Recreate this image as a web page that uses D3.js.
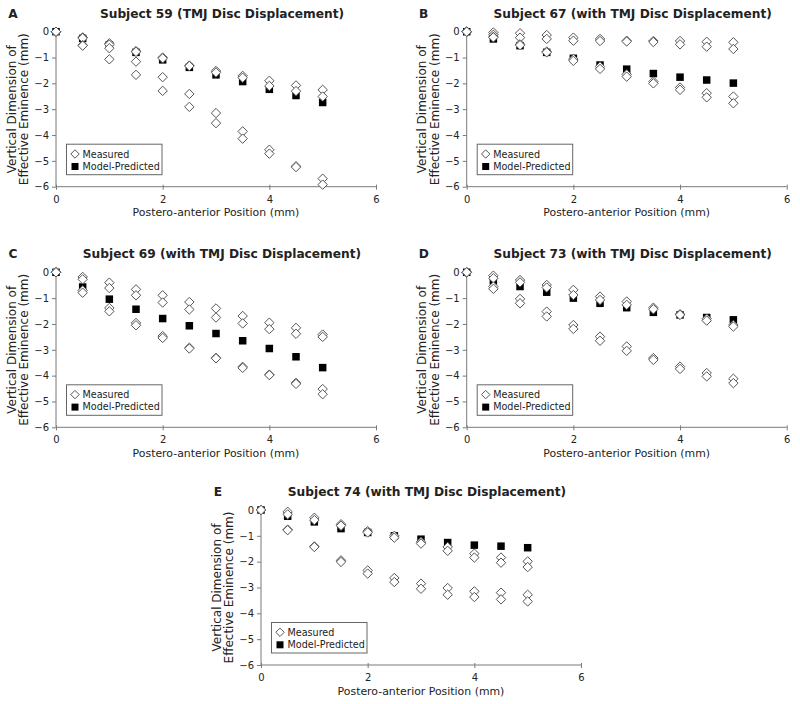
<!DOCTYPE html>
<html>
<head>
<meta charset="utf-8">
<script src="https://cdn.jsdelivr.net/npm/d3@7"></script>
<style>
  html, body { margin: 0; padding: 0; background: #fff; }
  svg text { font-family: "DejaVu Sans", Verdana, sans-serif; fill: #222; }
</style>
</head>
<body>
<svg id="chart" width="800" height="704"></svg>
<script>
// Positions along the postero-anterior axis (mm)
const positions = [0, 0.5, 1, 1.5, 2, 2.5, 3, 3.5, 4, 4.5, 5];
const xTicks = [0, 2, 4, 6];
const yTicks = [0, -1, -2, -3, -4, -5, -6];

const panelLetters = ["A", "B", "C", "D", "E"];
const panelTitles = [
  "Subject 59 (TMJ Disc Displacement)",
  "Subject 67 (with TMJ Disc Displacement)",
  "Subject 69 (with TMJ Disc Displacement)",
  "Subject 73 (with TMJ Disc Displacement)",
  "Subject 74 (with TMJ Disc Displacement)"
];

// Measured values (four measured traces per subject)
const measuredA = [
  [0, -0.22, -0.45, -0.75, -1.00, -1.31, -1.52, -1.71, -1.90, -2.08, -2.25],
  [0, -0.25, -0.50, -0.78, -1.03, -1.33, -1.58, -1.78, -2.10, -2.30, -2.51],
  [0, -0.52, -0.64, -1.16, -1.76, -2.41, -3.15, -3.86, -4.57, -5.21, -5.69],
  [0, -0.54, -1.07, -1.67, -2.29, -2.91, -3.54, -4.14, -4.72, -5.24, -5.92]
];
const measuredB = [
  [0, -0.03, -0.06, -0.13, -0.23, -0.28, -0.35, -0.36, -0.36, -0.39, -0.41],
  [0, -0.12, -0.23, -0.28, -0.35, -0.36, -0.38, -0.40, -0.49, -0.58, -0.67],
  [0, -0.20, -0.49, -0.77, -1.06, -1.35, -1.65, -1.93, -2.16, -2.38, -2.51],
  [0, -0.22, -0.52, -0.80, -1.13, -1.44, -1.74, -2.00, -2.25, -2.54, -2.77]
];
const measuredC = [
  [0, -0.18, -0.40, -0.66, -0.89, -1.15, -1.40, -1.69, -1.95, -2.15, -2.41],
  [0, -0.27, -0.61, -0.89, -1.17, -1.44, -1.75, -1.98, -2.20, -2.38, -2.50],
  [0, -0.70, -1.38, -1.96, -2.47, -2.92, -3.31, -3.66, -3.96, -4.28, -4.52],
  [0, -0.79, -1.51, -2.05, -2.54, -2.95, -3.33, -3.70, -3.98, -4.32, -4.72]
];
const measuredD = [
  [0, -0.13, -0.30, -0.49, -0.68, -0.94, -1.13, -1.37, -1.62, -1.80, -2.04],
  [0, -0.23, -0.39, -0.59, -0.88, -1.07, -1.26, -1.43, -1.65, -1.87, -2.10],
  [0, -0.55, -1.03, -1.52, -2.04, -2.49, -2.87, -3.32, -3.65, -3.90, -4.12],
  [0, -0.64, -1.20, -1.71, -2.19, -2.65, -3.04, -3.39, -3.74, -4.03, -4.29]
];
const measuredE = [
  [0, -0.07, -0.30, -0.55, -0.82, -1.00, -1.24, -1.43, -1.69, -1.84, -1.99],
  [0, -0.17, -0.39, -0.61, -0.87, -1.07, -1.30, -1.58, -1.84, -2.04, -2.21],
  [0, -0.76, -1.41, -1.95, -2.34, -2.63, -2.85, -3.02, -3.15, -3.20, -3.28],
  [0, -0.78, -1.43, -2.01, -2.46, -2.79, -3.05, -3.28, -3.37, -3.46, -3.54]
];

// Model-predicted values
const modelA = [0, -0.26, -0.51, -0.80, -1.09, -1.38, -1.67, -1.93, -2.23, -2.47, -2.74];
const modelB = [0, -0.28, -0.54, -0.80, -1.03, -1.29, -1.45, -1.62, -1.76, -1.87, -1.99];
const modelC = [0, -0.57, -1.04, -1.43, -1.79, -2.07, -2.37, -2.65, -2.95, -3.27, -3.69];
const modelD = [0, -0.33, -0.55, -0.77, -1.00, -1.20, -1.37, -1.55, -1.65, -1.75, -1.84];
const modelE = [0, -0.24, -0.46, -0.72, -0.87, -1.00, -1.13, -1.26, -1.36, -1.40, -1.46];

const legendLabels = ["Measured", "Model-Predicted"];

const measuredAll = [measuredA, measuredB, measuredC, measuredD, measuredE];
const modelAll = [modelA, modelB, modelC, modelD, modelE];

// Layout (plot origins)
const origins = [[56, 31.7], [466.7, 31.7], [56, 272.3], [466.7, 272.3], [261, 510]];
const plotW = 320, plotH = 155;

const svg = d3.select("#chart");
const axisColor = "#7a7a7a";
const minus = v => (v < 0 ? "\u2212" + Math.abs(v) : String(v));

function diamondPath(r) {
  return `M0,${-r}L${r},0L0,${r}L${-r},0Z`;
}

for (let p = 0; p < 5; p++) {
  const [ox, oy] = origins[p];
  const g = svg.append("g").attr("transform", `translate(${ox},${oy})`);
  const x = d3.scaleLinear().domain([0, 6]).range([0, plotW]);
  const y = d3.scaleLinear().domain([0, -6]).range([0, plotH]);

  // Y axis
  const yAxis = d3.axisLeft(y).tickValues(yTicks).tickSize(4).tickPadding(3).tickFormat(minus);
  const ya = g.append("g").call(yAxis);
  ya.select(".domain").attr("stroke", axisColor).attr("d", `M0,${y(0)}V${y(-6)}`);
  ya.selectAll(".tick line").attr("stroke", axisColor);
  ya.selectAll(".tick text").style("font-size", "10px").attr("fill", "#222");

  // X axis
  const xAxis = d3.axisBottom(x).tickValues(xTicks).tickSize(3).tickPadding(6).tickFormat(d3.format("d"));
  const xa = g.append("g").attr("transform", `translate(0,${plotH})`).call(xAxis);
  xa.select(".domain").attr("stroke", axisColor).attr("d", `M${x(0)},0H${x(6)}`);
  xa.selectAll(".tick line").attr("stroke", axisColor).attr("y1", -2);
  xa.selectAll(".tick text").style("font-size", "10px").attr("fill", "#222");

  // Axis titles
  g.append("text")
    .attr("x", plotW / 2).attr("y", plotH + 29.5)
    .attr("text-anchor", "middle")
    .style("font-size", "10.9px")
    .text("Postero-anterior Position (mm)");
  const yl = g.append("g").attr("transform", `translate(0,${plotH / 2}) rotate(-90)`);
  yl.append("text").attr("x", 0).attr("y", -44.5).attr("dy", "0.35em")
    .attr("text-anchor", "middle").style("font-size", "12px").text("Vertical Dimension of");
  yl.append("text").attr("x", 0).attr("y", -32).attr("dy", "0.35em")
    .attr("text-anchor", "middle").style("font-size", "12px").text("Effective Eminence (mm)");

  // Title and panel letter
  g.append("text")
    .attr("x", 166).attr("y", -14)
    .attr("text-anchor", "middle")
    .style("font-size", "12.2px").style("font-weight", "bold")
    .text(panelTitles[p]);
  g.append("text")
    .attr("x", -43).attr("y", -14)
    .attr("text-anchor", "middle")
    .style("font-size", "12.2px").style("font-weight", "bold")
    .text(panelLetters[p]);

  // Model-predicted squares
  const sq = 7.5;
  g.selectAll("rect.model").data(positions.map((px, i) => [px, modelAll[p][i]]))
    .enter().append("rect").attr("class", "model")
    .attr("x", d => x(d[0]) - sq / 2).attr("y", d => y(d[1]) - sq / 2)
    .attr("width", sq).attr("height", sq).attr("fill", "#000");

  // Measured diamonds
  const pts = [];
  measuredAll[p].forEach(series => series.forEach((v, i) => pts.push([positions[i], v])));
  g.selectAll("path.meas").data(pts).enter().append("path").attr("class", "meas")
    .attr("transform", d => `translate(${x(d[0])},${y(d[1])})`)
    .attr("d", diamondPath(4.7))
    .attr("fill", "#fff").attr("stroke", "#555").attr("stroke-width", 1);

  // Legend
  const lg = g.append("g").attr("transform", `translate(10.5,112.5)`);
  lg.append("rect").attr("x", 0).attr("y", 0).attr("width", 95.5).attr("height", 30.5)
    .attr("fill", "#fff").attr("stroke", "#666").attr("stroke-width", 1);
  lg.append("path").attr("transform", "translate(8.5,9.8)").attr("d", diamondPath(4.2))
    .attr("fill", "#fff").attr("stroke", "#555");
  lg.append("rect").attr("x", 5).attr("y", 18.8).attr("width", 7).attr("height", 7).attr("fill", "#000");
  lg.append("text").attr("x", 16).attr("y", 10).attr("dy", "0.35em").style("font-size", "9.6px").text(legendLabels[0]);
  lg.append("text").attr("x", 16).attr("y", 22.3).attr("dy", "0.35em").style("font-size", "9.6px").text(legendLabels[1]);
}
</script>
</body>
</html>
